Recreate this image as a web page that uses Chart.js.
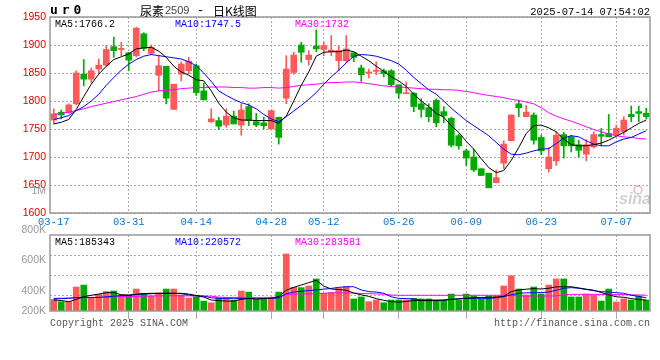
<!DOCTYPE html>
<html>
<head>
<meta charset="utf-8">
<script src="https://cdn.jsdelivr.net/npm/chart.js@4.4.1/dist/chart.umd.min.js"></script>
<style>
  html, body { margin: 0; padding: 0; background: #fff; }
  #wrap { position: relative; width: 660px; height: 360px; }
  #wrap canvas { position: absolute; left: 0; top: 0; }
</style>
</head>
<body>
<div id="wrap">
  <canvas id="kline" width="660" height="360"></canvas>
  <canvas id="volume" width="660" height="360"></canvas>
</div>
<script>
const dates = [
    '03-17','03-18','03-19','03-20','03-21','03-24','03-25','03-26','03-27','03-28','03-31',
    '04-01','04-02','04-03','04-07','04-08','04-09','04-10','04-11','04-14','04-15','04-16',
    '04-17','04-18','04-21','04-22','04-23','04-24','04-25','04-28','04-29','04-30',
    '05-06','05-07','05-08','05-09','05-12','05-13','05-14','05-15','05-16','05-19','05-20',
    '05-21','05-22','05-23','05-26','05-27','05-28','05-29','05-30',
    '06-03','06-04','06-05','06-06','06-09','06-10','06-11','06-12','06-13','06-16','06-17',
    '06-18','06-19','06-20','06-23','06-24','06-25','06-26','06-27','06-30',
    '07-01','07-02','07-03','07-04','07-07','07-08','07-09','07-10','07-11'
];
const markedDays = ['03-17', '03-31', '04-14', '04-28', '05-12', '05-26', '06-09', '06-23', '07-07'];

const openPrices = [
    1766, 1780, 1779, 1795, 1848, 1839, 1857, 1864, 1897, 1892,
    1886, 1881, 1920, 1885, 1846, 1862, 1785, 1848, 1854, 1863,
    1818, 1763, 1765, 1757, 1773, 1757, 1790, 1763, 1761, 1750,
    1771, 1805, 1851, 1900, 1874, 1898, 1892, 1888, 1872, 1872,
    1886, 1859, 1850, 1853, 1854, 1854, 1829, 1813, 1814, 1795,
    1788, 1801, 1781, 1769, 1738, 1711, 1700, 1679, 1671, 1654,
    1689, 1729, 1795, 1772, 1775, 1735, 1679, 1693, 1740, 1736,
    1722, 1705, 1718, 1740, 1742, 1740, 1745, 1776, 1781, 1778
];
const highPrices = [
    1786, 1784, 1795, 1854, 1874, 1859, 1875, 1899, 1914, 1905,
    1887, 1932, 1922, 1900, 1881, 1862, 1830, 1870, 1878, 1866,
    1832, 1786, 1771, 1786, 1782, 1795, 1795, 1778, 1771, 1783,
    1771, 1881, 1887, 1905, 1890, 1927, 1905, 1917, 1898, 1917,
    1886, 1864, 1857, 1870, 1857, 1856, 1829, 1834, 1815, 1804,
    1795, 1804, 1790, 1771, 1741, 1714, 1714, 1679, 1671, 1677,
    1729, 1775, 1801, 1792, 1779, 1739, 1717, 1744, 1744, 1739,
    1730, 1731, 1745, 1751, 1776, 1757, 1772, 1791, 1791, 1787
];
const lowPrices = [
    1759, 1768, 1778, 1793, 1827, 1833, 1848, 1862, 1878, 1881,
    1854, 1879, 1890, 1883, 1818, 1795, 1785, 1836, 1848, 1810,
    1802, 1761, 1749, 1753, 1759, 1739, 1756, 1754, 1750, 1750,
    1723, 1795, 1848, 1869, 1864, 1888, 1881, 1881, 1854, 1869,
    1870, 1835, 1841, 1847, 1843, 1826, 1805, 1813, 1781, 1771,
    1763, 1754, 1761, 1718, 1714, 1685, 1674, 1667, 1645, 1654,
    1679, 1729, 1772, 1772, 1723, 1704, 1673, 1685, 1698, 1709,
    1700, 1693, 1716, 1720, 1736, 1740, 1739, 1763, 1763, 1768
];
const closePrices = [
    1777, 1775, 1793, 1850, 1839, 1854, 1864, 1892, 1890, 1894,
    1873, 1930, 1894, 1896, 1863, 1805, 1830, 1866, 1871, 1815,
    1802, 1768, 1755, 1773, 1759, 1784, 1765, 1757, 1756, 1783,
    1735, 1857, 1882, 1887, 1882, 1893, 1899, 1891, 1890, 1893,
    1878, 1847, 1851, 1855, 1849, 1829, 1814, 1814, 1790, 1785,
    1772, 1761, 1774, 1721, 1720, 1698, 1677, 1667, 1645, 1663,
    1723, 1775, 1788, 1780, 1730, 1711, 1700, 1739, 1720, 1720,
    1712, 1722, 1740, 1737, 1736, 1751, 1766, 1772, 1778, 1772
];

// moving averages
const ma5 = [
    1759, 1762, 1767, 1785, 1808, 1830, 1848, 1862, 1874, 1879,
    1884, 1893, 1895, 1896, 1889, 1878, 1862, 1852, 1846, 1838,
    1836, 1818, 1796, 1780, 1770, 1766, 1766, 1765, 1765, 1765,
    1760, 1773, 1800, 1828, 1852, 1880, 1887, 1888, 1888, 1891,
    1888, 1880, 1872, 1862, 1853, 1843, 1836, 1826, 1812, 1800,
    1790, 1778, 1771, 1756, 1744, 1728, 1714, 1697, 1681, 1672,
    1676, 1694, 1717, 1742, 1756, 1757, 1752, 1745, 1732, 1722,
    1720, 1720, 1722, 1725, 1730, 1737, 1744, 1752, 1760, 1766
];
const ma10 = [
    1767, 1770, 1774, 1783, 1790, 1800, 1812, 1828, 1842, 1855,
    1866, 1874, 1880, 1883, 1881, 1879, 1877, 1875, 1870, 1863,
    1850, 1835, 1818, 1810, 1803, 1797, 1793, 1786, 1776, 1768,
    1763, 1772, 1782, 1792, 1803, 1815, 1830, 1843, 1855, 1868,
    1880, 1883, 1882, 1880, 1876, 1872, 1866, 1855, 1842, 1831,
    1820, 1812, 1800, 1787, 1776, 1765, 1756, 1747, 1738, 1726,
    1714, 1705, 1704, 1707, 1711, 1714, 1715, 1724, 1734, 1738,
    1736, 1729, 1723, 1720, 1720, 1727, 1732, 1735, 1741, 1747
];
const ma30 = [
    1776, 1778, 1780, 1783, 1786, 1790, 1793, 1796, 1799, 1802,
    1805, 1808, 1812, 1816, 1818, 1819, 1820, 1822, 1823, 1824,
    1824, 1825, 1825, 1825, 1824, 1824, 1823, 1823, 1824, 1824,
    1823, 1824, 1826, 1828, 1829, 1830, 1832, 1833, 1833, 1834,
    1834, 1833, 1831, 1829, 1827, 1826, 1825, 1824, 1823, 1822,
    1821, 1821, 1820, 1820, 1819, 1817, 1815, 1812, 1810, 1808,
    1806, 1803, 1801, 1798, 1795, 1788, 1779, 1773, 1768, 1764,
    1759, 1754, 1749, 1745, 1741, 1738, 1736, 1735, 1733, 1732
];
const maLatest = ['1766.2', '1747.5', '1732'];

// volume, in K as scaled on the picture's volume axis
const volumes = [
    345, 330, 330, 426, 439, 352, 378, 396, 400, 374,
    374, 413, 385, 367, 387, 413, 413, 374, 354, 363,
    334, 323, 356, 358, 341, 400, 393, 345, 345, 358,
    393, 643, 424, 422, 433, 479, 385, 389, 417, 428,
    348, 361, 330, 341, 323, 341, 341, 341, 352, 348,
    348, 339, 339, 380, 341, 380, 367, 348, 367, 367,
    433, 500, 413, 374, 426, 380, 439, 479, 479, 361,
    361, 380, 374, 334, 413, 328, 348, 341, 367, 341
];
const volMa5 = [
    341, 338, 330, 345, 363, 372, 380, 389, 389, 376,
    372, 378, 383, 385, 385, 385, 385, 385, 380, 370,
    360, 341, 337, 334, 334, 345, 352, 348, 350, 352,
    363, 405, 424, 439, 455, 470, 432, 413, 410, 405,
    387, 375, 365, 350, 339, 330, 327, 332, 337, 337,
    337, 337, 340, 345, 348, 352, 356, 358, 358, 360,
    365, 396, 407, 412, 416, 413, 418, 427, 428, 428,
    420, 412, 405, 390, 375, 362, 359, 350, 345, 340
];
const volMa10 = [
    350, 350, 352, 357, 358, 358, 358, 362, 366, 370,
    372, 378, 380, 382, 384, 385, 385, 383, 374, 370,
    366, 356, 352, 352, 352, 352, 350, 349, 350, 352,
    355, 382, 393, 398, 403, 407, 412, 417, 424, 428,
    428, 407, 396, 393, 385, 362, 352, 350, 348, 341,
    341, 341, 341, 345, 350, 352, 352, 352, 352, 356,
    363, 375, 385, 388, 389, 389, 394, 405, 418, 422,
    418, 410, 402, 396, 393, 389, 385, 372, 365, 355
];
const volMa30 = [
    352, 353, 354, 356, 356, 357, 358, 359, 361, 363,
    364, 365, 366, 367, 368, 369, 369, 369, 368, 368,
    367, 366, 360, 358, 358, 358, 358, 358, 358, 358,
    360, 378, 379, 380, 381, 383, 385, 388, 388, 387,
    386, 384, 383, 381, 379, 374, 372, 372, 372, 372,
    372, 372, 372, 372, 372, 372, 372, 372, 372, 372,
    372, 371, 368, 367, 367, 367, 367, 368, 376, 378,
    378, 378, 378, 378, 378, 377, 376, 375, 374, 373
];
const volMaLatest = ['185343', '220572', '283581'];
const volTickLabels = [1000, 800, 600, 400, 200];
const volGridTicks = [372, 503, 631];

const UP = '#ff5a5a';
const DOWN = '#00a800';
const GRID = '#aaaaaa';
const MONO = '"Liberation Mono", "DejaVu Sans Mono", monospace';
const SANS = '"Liberation Sans", Arial, sans-serif';

const candleColors = openPrices.map((o, i) => closePrices[i] >= o ? UP : DOWN);
const markedIdx = markedDays.map(d => dates.indexOf(d));

function keepMarked(scale) {
    scale.ticks = scale.ticks.filter(t => markedIdx.includes(t.value));
}
function gridColor(ctx) {
    return ctx.tick && ctx.tick.value === 0 ? 'rgba(0,0,0,0)' : GRID;
}
function maLine(data, color) {
    return {
        type: 'line',
        data: data,
        borderColor: color,
        borderWidth: 1,
        pointRadius: 0,
        tension: 0,
        order: 0
    };
}

const klineDecor = {
    id: 'klineDecor',
    afterDraw(chart) {
        const ctx = chart.ctx;
        const a = chart.chartArea;
        ctx.save();
        ctx.strokeStyle = '#999';
        ctx.lineWidth = 1.5;
        ctx.strokeRect(a.left, a.top, a.right - a.left, a.bottom - a.top);

        ctx.textBaseline = 'middle';
        ctx.fillStyle = '#000';
        ctx.font = 'bold 13px "DejaVu Sans Mono", monospace';
        ['u', 'r', '0'].forEach((c, k) => ctx.fillText(c, 50 + k * 11.8, 11));

        ctx.font = '12px "Noto Sans CJK SC"';
        ctx.fillText('尿素', 140, 11);
        ctx.fillStyle = '#444';
        ctx.font = '11px ' + SANS;
        ctx.fillText('2509', 165, 11);
        ctx.fillStyle = '#000';
        ctx.font = '12px ' + MONO;
        ctx.fillText('-', 197, 11);
        ctx.font = '12px "Noto Sans CJK SC"';
        ctx.fillText('日K线图', 213, 11);

        ctx.font = '10.5px ' + MONO;
        ctx.textAlign = 'right';
        ctx.fillText('2025-07-14 07:54:02', 650, 12);

        ctx.textAlign = 'left';
        ctx.font = '10px ' + MONO;
        ctx.fillStyle = '#000';
        ctx.fillText('MA5:' + maLatest[0], 55, 24);
        ctx.fillStyle = '#0000ff';
        ctx.fillText('MA10:' + maLatest[1], 175, 24);
        ctx.fillStyle = '#ff00ff';
        ctx.fillText('MA30:' + maLatest[2], 295, 24);

        // sina watermark
        ctx.font = 'italic bold 16px ' + SANS;
        ctx.fillStyle = 'rgba(150,150,150,0.45)';
        ctx.fillText('sina', 619, 200);
        ctx.strokeStyle = 'rgba(225,90,90,0.45)';
        ctx.lineWidth = 1.5;
        ctx.beginPath();
        ctx.arc(638, 190, 4, 0, Math.PI * 2);
        ctx.stroke();
        ctx.restore();
    }
};

const volumeDecor = {
    id: 'volumeDecor',
    afterDraw(chart) {
        const ctx = chart.ctx;
        const a = chart.chartArea;
        const ys = chart.scales.y;
        ctx.save();
        ctx.strokeStyle = '#999';
        ctx.lineWidth = 1.5;
        ctx.strokeRect(a.left, a.top, a.right - a.left, a.bottom - a.top);

        ctx.textBaseline = 'middle';
        ctx.textAlign = 'right';
        ctx.fillStyle = '#999';
        ctx.font = '10.5px ' + SANS;
        volTickLabels.forEach(v => {
            const label = v >= 1000 ? (v / 1000) + 'M' : v + 'K';
            const y = v >= 1000 ? 191 : Math.min(ys.getPixelForValue(v), ys.bottom);
            ctx.fillText(label, 46, y);
        });

        ctx.textAlign = 'left';
        ctx.font = '10px ' + MONO;
        ctx.fillStyle = '#000';
        ctx.fillText('MA5:' + volMaLatest[0], 55, a.top + 7);
        ctx.fillStyle = '#0000ff';
        ctx.fillText('MA10:' + volMaLatest[1], 175, a.top + 7);
        ctx.fillStyle = '#ff00ff';
        ctx.fillText('MA30:' + volMaLatest[2], 295, a.top + 7);

        ctx.fillStyle = '#555';
        ctx.fillText('Copyright 2025 SINA.COM', 50, 323);
        ctx.textAlign = 'right';
        ctx.fillText('http://finance.sina.com.cn', 650, 323);
        ctx.restore();
    }
};

new Chart(document.getElementById('kline'), {
    type: 'bar',
    data: {
        labels: dates,
        datasets: [
            maLine(ma5, '#000000'),
            maLine(ma10, '#0000ff'),
            maLine(ma30, '#ff00ff'),
            {
                data: openPrices.map((o, i) => [o, closePrices[i]]),
                backgroundColor: candleColors,
                barThickness: 6,
                minBarLength: 1,
                grouped: false,
                order: 2
            },
            {
                data: lowPrices.map((l, i) => [l, highPrices[i]]),
                backgroundColor: candleColors,
                barThickness: 1,
                grouped: false,
                order: 3
            }
        ]
    },
    options: {
        responsive: false,
        animation: false,
        events: [],
        layout: { padding: { left: 0, right: 10, top: 17, bottom: 133 } },
        plugins: { legend: { display: false }, tooltip: { enabled: false } },
        scales: {
            x: {
                type: 'category',
                offset: true,
                grid: { offset: false, color: gridColor, drawTicks: false },
                border: { display: false, dash: [2, 2] },
                ticks: {
                    autoSkip: false,
                    maxRotation: 0,
                    padding: 3,
                    color: '#0a78d2',
                    font: { family: MONO, size: 10.5 }
                },
                afterBuildTicks: keepMarked,
                afterFit: s => { s.height = 14; }
            },
            y: {
                min: 1600,
                max: 1950,
                grid: { color: GRID, drawTicks: false },
                border: { display: false, dash: [2, 2] },
                ticks: {
                    stepSize: 50,
                    padding: 4,
                    color: '#e00000',
                    font: { family: SANS, size: 10.5 },
                    callback: v => String(v)
                },
                afterFit: s => { s.width = 50; }
            }
        }
    },
    plugins: [klineDecor]
});

new Chart(document.getElementById('volume'), {
    type: 'bar',
    data: {
        labels: dates,
        datasets: [
            maLine(volMa5, '#000000'),
            maLine(volMa10, '#0000ff'),
            maLine(volMa30, '#ff00ff'),
            {
                data: volumes,
                backgroundColor: candleColors,
                barThickness: 6,
                grouped: false,
                order: 2
            }
        ]
    },
    options: {
        responsive: false,
        animation: false,
        events: [],
        layout: { padding: { left: 0, right: 10, top: 235, bottom: 41 } },
        plugins: { legend: { display: false }, tooltip: { enabled: false } },
        scales: {
            x: {
                type: 'category',
                offset: true,
                grid: { offset: false, color: gridColor, drawTicks: true, tickLength: 8 },
                border: { display: false, dash: [2, 2] },
                ticks: { display: false, autoSkip: false },
                afterBuildTicks: keepMarked,
                afterFit: s => { s.height = 8; }
            },
            y: {
                min: 269,
                max: 767,
                grid: { color: GRID, drawTicks: false },
                border: { display: false, dash: [2, 2] },
                ticks: { display: false },
                afterBuildTicks: s => { s.ticks = volGridTicks.map(v => ({ value: v })); },
                afterFit: s => { s.width = 50; }
            }
        }
    },
    plugins: [volumeDecor]
});
</script>
</body>
</html>
